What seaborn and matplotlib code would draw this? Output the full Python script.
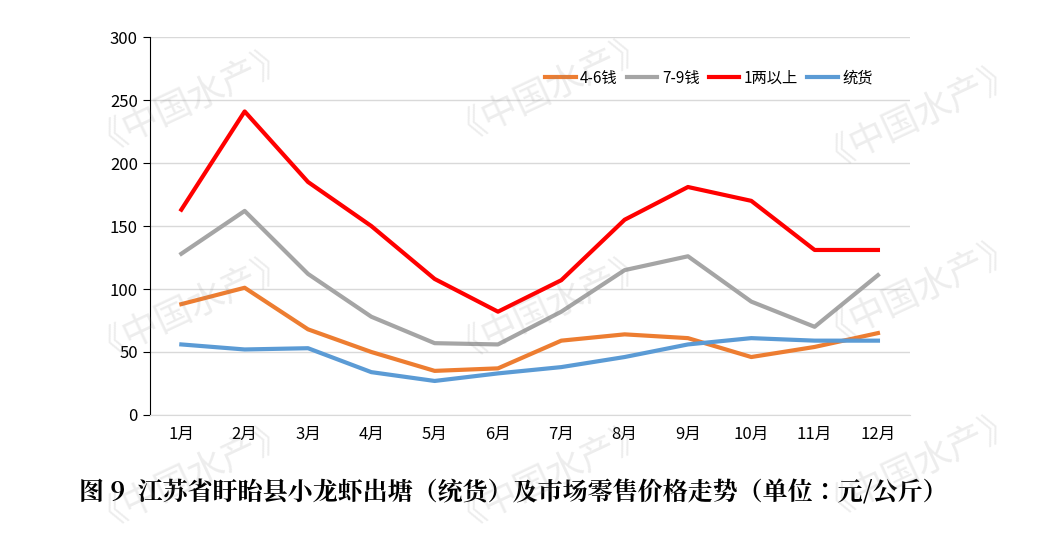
import matplotlib
matplotlib.use("Agg")
import matplotlib.pyplot as plt
from matplotlib import font_manager as fm
import seaborn as sns
import pandas as pd

months = ["1月","2月","3月","4月","5月","6月","7月","8月","9月","10月","11月","12月"]
s46 = [88,101,68,50,35,37,59,64,61,46,54,65]
s79 = [128,162,112,78,57,56,82,115,126,90,70,111]
s1l = [163,241,185,150,108,82,107,155,181,170,131,131]
tong = [56,52,53,34,27,33,38,46,56,61,59,59]
names = ["4-6钱","7-9钱","1两以上","统货"]
colors = ["#ED7D31","#A5A5A5","#FF0000","#5B9BD5"]

cjk = [f for f in fm.findSystemFonts() if "CJK" in f]
for f in cjk:
    try:
        fm.fontManager.addfont(f)
    except Exception:
        pass
sans, serif = "DejaVu Sans", None
for f in fm.fontManager.ttflist:
    if "CJK" in f.name and "Sans" in f.name and (sans == "DejaVu Sans" or "SC" in f.name):
        sans = f.name
    if "CJK" in f.name and "Serif" in f.name and (serif is None or "SC" in f.name):
        serif = f.name
serif = serif or sans
plt.rcParams["font.family"] = [sans, "DejaVu Sans"]

df = pd.DataFrame({"i": list(range(12))*4,
                   "v": s46+s79+s1l+tong,
                   "s": sum([[n]*12 for n in names], [])})
fig = plt.figure(figsize=(10.54,5.46), dpi=100)
ax = fig.add_axes([0.142,0.24,0.721,0.692])
sns.lineplot(data=df, x="i", y="v", hue="s", palette=colors, linewidth=3, ax=ax)
ax.set_xlim(-0.5,11.5); ax.set_ylim(0,300)
ax.set_xticks(range(12)); ax.set_xticklabels(months, fontsize=12)
ax.set_yticks(range(0,301,50)); ax.tick_params(axis="y", labelsize=12, length=5)
ax.tick_params(axis="x", length=0, pad=8)
ax.grid(axis="y", color="#D9D9D9", linewidth=1); ax.set_axisbelow(True)
for sp in ["top","right"]: ax.spines[sp].set_visible(False)
ax.spines["bottom"].set_color("#D9D9D9")
ax.set_xlabel(""); ax.set_ylabel("")
ax.legend(loc="upper right", bbox_to_anchor=(0.97,0.95), ncol=4, frameon=False,
          fontsize=11, handlelength=2.0, handletextpad=0.3, columnspacing=0.6)
fig.text(0.487, 0.085, "图 9  江苏省盱眙县小龙虾出塘（统货）及市场零售价格走势（单位：元/公斤）",
         ha="center", fontsize=18, fontweight="bold", family=serif)
for x, y in [(0.18,0.83),(0.52,0.85),(0.87,0.8),(0.18,0.45),(0.52,0.45),(0.87,0.48),(0.18,0.14),(0.52,0.14),(0.87,0.16)]:
    fig.text(x, y, "《中国水产》", fontsize=26, color="#888888", alpha=0.15, rotation=25, ha="center", va="center")
fig.savefig("out.png", dpi=100)
